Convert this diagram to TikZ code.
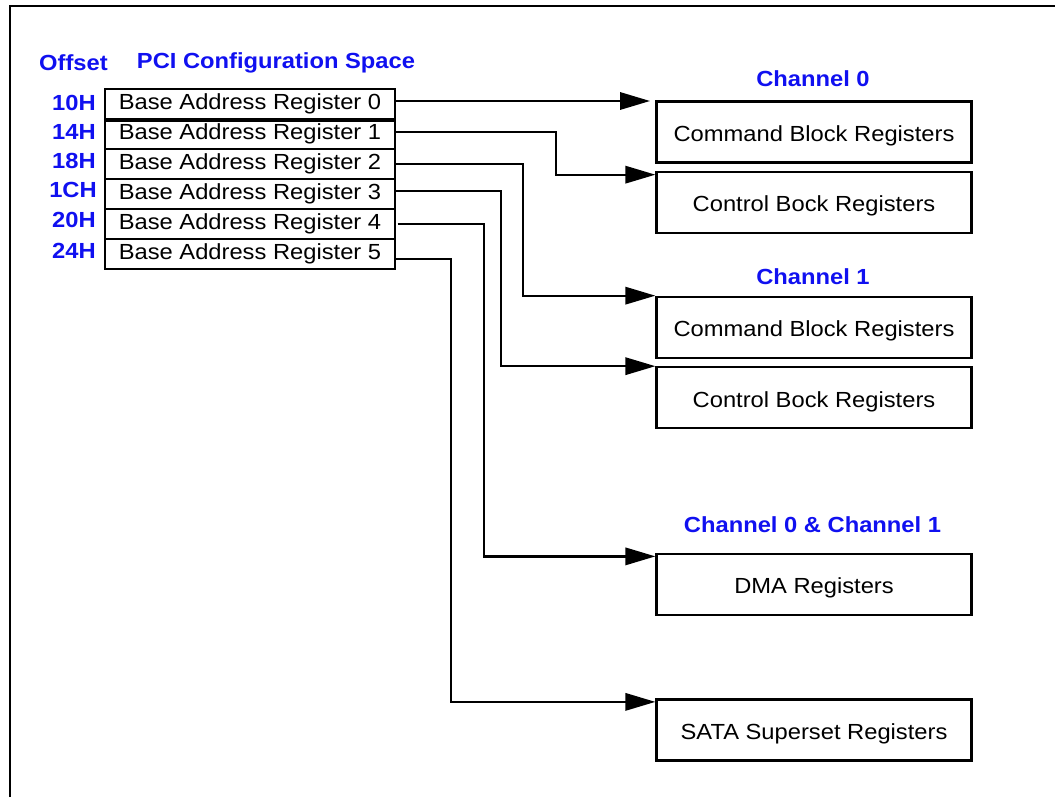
\documentclass[tikz,border=0pt]{standalone}
\usepackage{fontspec}
\setmainfont{Liberation Sans}[FakeStretch=1.085]
\usetikzlibrary{arrows.meta,calc}
\definecolor{lblue}{RGB}{16,16,240}
\begin{document}
\begin{tikzpicture}[x=0.75pt,y=-0.75pt,
  every node/.style={font=\fontsize{16.4}{19}\selectfont},
  reg/.style={draw,line width=1.7pt,minimum width=217.5pt,minimum height=22.5pt,inner sep=0pt},
  rbox/.style={draw,line width=1.7pt,minimum width=236.25pt,minimum height=45.75pt,inner sep=0pt,text height=14pt,text depth=0pt},
  lbl/.style={text=lblue,font=\fontsize{16.4}{19}\selectfont\bfseries,inner sep=0pt},
  arr/.style={line width=1.7pt,-{Triangle[length=22.5pt,width=13pt]}},
  frame/.style={line width=1.8pt}
]
\useasboundingbox (0,0) rectangle (1055,797);
\draw[frame] (10,797) -- (10,5.7) -- (1055,5.7);

% headers
\node[lbl] (hoff) at (73.5,63) {Offset};
\node[lbl] (hpci) at (276,63) {PCI Configuration Space};

% registers
\node[reg] (bar0) at (250,104) {Base Address Register 0};
\node[reg] (bar1) at (250,134) {Base Address Register 1};
\node[reg] (bar2) at (250,164) {Base Address Register 2};
\node[reg] (bar3) at (250,194) {Base Address Register 3};
\node[reg] (bar4) at (250,224) {Base Address Register 4};
\node[reg] (bar5) at (250,254) {Base Address Register 5};
\draw[line width=2.4pt] (bar0.south west) -- (bar0.south east);

% offsets
\node[lbl,anchor=east] (o0) at (96,103) {10H};
\node[lbl,anchor=east] (o1) at (96,132) {14H};
\node[lbl,anchor=east] (o2) at (96,161) {18H};
\node[lbl,anchor=east] (o3) at (97,190) {1CH};
\node[lbl,anchor=east] (o4) at (96,220) {20H};
\node[lbl,anchor=east] (o5) at (96,251) {24H};

% channel labels
\node[lbl] (ch0) at (813,79) {Channel 0};
\node[lbl] (ch1) at (813,277) {Channel 1};
\node[lbl] (ch01) at (812.5,525) {Channel 0 \& Channel 1};

% right boxes
\node[rbox] (cbr0) at (814,132) {Command Block Registers};
\node[rbox] (ctl0) at (814,202.3) {Control Bock Registers};
\node[rbox] (cbr1) at (814,327.3) {Command Block Registers};
\node[rbox] (ctl1) at (814,397.8) {Control Bock Registers};
\node[rbox] (dma) at (814,584.5) {DMA Registers};
\node[rbox] (sata) at (814,730) {SATA Superset Registers};

% connectors
\coordinate (t0) at (650,101);
\draw[arr] (bar0.east |- t0) -- (t0);

\coordinate (v1) at (555.7,0);
\coordinate (v2) at (523,0);
\coordinate (v3) at (500.7,0);
\coordinate (v4) at (484,0);
\coordinate (v5) at (451,0);

\coordinate (s1) at ($(bar1.east)+(0,-1.7)$);
\coordinate (s2) at (bar2.east);
\coordinate (s3) at ($(bar3.east)+(0,-3)$);
\coordinate (s4) at ($(bar4.east)+(1.5,0)$);
\coordinate (s5) at ($(bar5.east)+(0,5)$);

\coordinate (t1) at ($(ctl0.north west)+(0,4)$);
\coordinate (t2) at (cbr1.north west);
\coordinate (t3) at (ctl1.north west);
\coordinate (t4) at ($(dma.north west)+(0,3.5)$);
\coordinate (t5) at ($(sata.north west)+(0,3.5)$);

\draw[arr] (s1) -- (s1 -| v1) |- (t1);
\draw[arr] (s2) -- (s2 -| v2) |- (t2);
\draw[arr] (s3) -- (s3 -| v3) |- (t3);
\draw[arr] (s4) -- (s4 -| v4) |- (t4);
\draw[arr] (s5) -- (s5 -| v5) |- (t5);
\end{tikzpicture}
\end{document}
